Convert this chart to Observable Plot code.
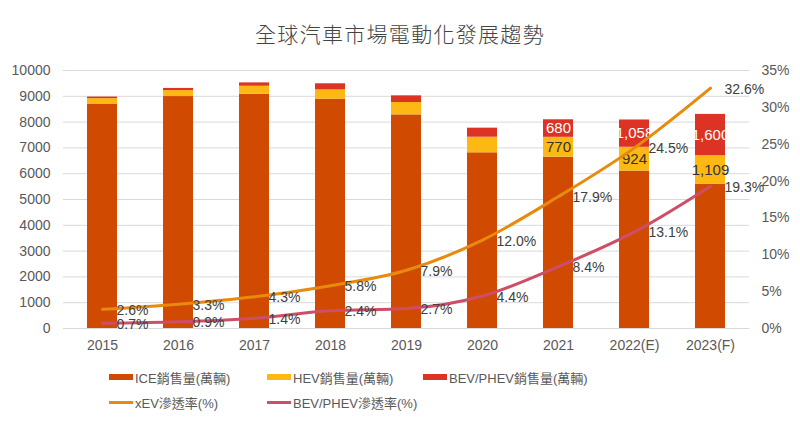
<!DOCTYPE html>
<html>
<head>
<meta charset="utf-8">
<script src="https://cdn.jsdelivr.net/npm/d3@7"></script>
<script src="https://cdn.jsdelivr.net/npm/@observablehq/plot@0.6"></script>
<style>
  html, body { margin: 0; padding: 0; background: #fff; }
  body { width: 800px; height: 423px; position: relative; overflow: hidden;
         font-family: "Liberation Sans", Arial, "Noto Sans CJK TC", sans-serif; color: #595959; }
  #title { position: absolute; left: 0; width: 800px; top: 20px; text-align: center;
           font-size: 21px; letter-spacing: 1.3px; color: #444; font-family: "Noto Sans CJK TC", sans-serif; font-weight: 300; line-height: 26px; }
  #chart { position: absolute; left: 0; top: 55px; }
  .lg { position: absolute; display: flex; align-items: center; font-size: 13px; color: #595959; white-space: nowrap; }
  .lg .sw { width: 24px; margin-right: 2px; }
</style>
</head>
<body>
<div id="title">全球汽車市場電動化發展趨勢</div>
<div id="chart"></div>
<div id="legend"></div>
<script>
const years = ["2015", "2016", "2017", "2018", "2019", "2020", "2021", "2022(E)", "2023(F)"];
const iceSales = [8700, 8990, 9080, 8890, 8280, 6810, 6640, 6100, 5590];
const hevSales = [210, 230, 310, 360, 478, 605, 770, 924, 1109];
const bevSales = [60, 85, 130, 235, 260, 350, 680, 1058, 1600];
const xevRate = [2.6, 3.3, 4.3, 5.8, 7.9, 12.0, 17.9, 24.5, 32.6];
const bevRate = [0.7, 0.9, 1.4, 2.4, 2.7, 4.4, 8.4, 13.1, 19.3];
const labeledYears = ["2021", "2022(E)", "2023(F)"];
const leftTicks = [0, 1000, 2000, 3000, 4000, 5000, 6000, 7000, 8000, 9000, 10000];
const rightTicks = [0, 5, 10, 15, 20, 25, 30, 35];

const seriesNames = ["ICE銷售量(萬輛)", "HEV銷售量(萬輛)", "BEV/PHEV銷售量(萬輛)"];
const seriesColors = ["#D04A02", "#FDB813", "#DD3324"];
const lineNames = ["xEV滲透率(%)", "BEV/PHEV滲透率(%)"];
const lineColors = ["#E88A0C", "#CE4E68"];

const k = 10000 / 35; // percent -> left axis units

const bars = [];
years.forEach((y, i) => {
  bars.push({year: y, type: seriesNames[0], value: iceSales[i]});
  bars.push({year: y, type: seriesNames[1], value: hevSales[i]});
  bars.push({year: y, type: seriesNames[2], value: bevSales[i]});
});
const xev = years.map((y, i) => ({year: y, p: xevRate[i]}));
const bev = years.map((y, i) => ({year: y, p: bevRate[i]}));

const fmt = d3.format(",");

const plot = Plot.plot({
  width: 800,
  height: 303,
  marginTop: 15,
  marginBottom: 30,
  marginLeft: 63,
  marginRight: 51,
  style: {fontFamily: '"Liberation Sans", Arial, "Noto Sans CJK TC", sans-serif', fontSize: "14px", color: "#595959", background: "white", overflow: "visible"},
  x: {domain: years, paddingInner: 0.6, paddingOuter: 0.3, label: null},
  y: {domain: [0, 10000], label: null},
  color: {domain: seriesNames, range: seriesColors},
  marks: [
    Plot.gridY(leftTicks, {stroke: "#d9d9d9", strokeOpacity: 1}),
    Plot.axisY(leftTicks, {tickSize: 0, tickPadding: 13, tickFormat: d3.format("d"), label: null}),
    Plot.axisY(rightTicks.map(p => p * k), {anchor: "right", tickSize: 0, tickPadding: 12, tickFormat: d => Math.round(d / k) + "%", label: null}),
    Plot.axisX({tickSize: 0, tickPadding: 12, label: null}),
    Plot.barY(bars, {x: "year", y: "value", fill: "type"}),
    Plot.text(bars, Plot.stackY({
      x: "year", y: "value",
      text: d => (labeledYears.includes(d.year) && d.type !== seriesNames[0]) ? fmt(d.value) : null,
      fill: d => d.type === seriesNames[2] ? "white" : "#333",
      fontSize: 15
    })),
    Plot.line(xev, {x: "year", y: d => d.p * k, stroke: lineColors[0], strokeWidth: 3, curve: "monotone-x"}),
    Plot.line(bev, {x: "year", y: d => d.p * k, stroke: lineColors[1], strokeWidth: 3, curve: "monotone-x"}),
    Plot.text(xev, {x: "year", y: d => d.p * k, text: d => d.p.toFixed(1) + "%", dx: 14, dy: 1, textAnchor: "start", fill: "#404040", fontSize: 14}),
    Plot.text(bev, {x: "year", y: d => d.p * k, text: d => d.p.toFixed(1) + "%", dx: 14, dy: 1, textAnchor: "start", fill: "#404040", fontSize: 14})
  ]
});
document.getElementById("chart").appendChild(plot);

// Legend
const legend = document.getElementById("legend");
const items = [
  {name: seriesNames[0], color: seriesColors[0], kind: "bar", x: 109, y: 377},
  {name: seriesNames[1], color: seriesColors[1], kind: "bar", x: 267, y: 377},
  {name: seriesNames[2], color: seriesColors[2], kind: "bar", x: 423, y: 377},
  {name: lineNames[0], color: lineColors[0], kind: "line", x: 109, y: 402},
  {name: lineNames[1], color: lineColors[1], kind: "line", x: 267, y: 402}
];
items.forEach(it => {
  const el = document.createElement("div");
  el.className = "lg";
  el.style.left = it.x + "px";
  el.style.top = (it.y - 10) + "px";
  el.style.height = "20px";
  const sw = document.createElement("div");
  sw.className = "sw";
  sw.style.height = it.kind === "bar" ? "6px" : "3px";
  sw.style.background = it.color;
  const tx = document.createElement("span");
  tx.textContent = it.name;
  el.appendChild(sw);
  el.appendChild(tx);
  legend.appendChild(el);
});
</script>
</body>
</html>
